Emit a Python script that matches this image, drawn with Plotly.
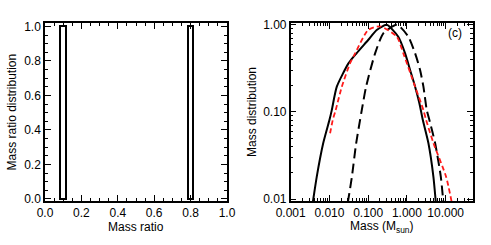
import plotly.graph_objects as go
import math

# Left panel: mass ratio histogram
ratio_centers = [0.10, 0.80]
ratio_values = [1.0, 1.0]
ratio_width = 0.03

# Right panel: mass distributions
solid_mass = [0.0037, 0.0047, 0.0069, 0.010, 0.0115, 0.0155, 0.031, 0.050, 0.10, 0.166, 0.30,
              0.60, 0.90, 1.21, 1.63, 2.10, 2.58, 3.60, 4.84, 5.6]
solid_val = [0.009, 0.018, 0.0437, 0.0807, 0.105, 0.195, 0.361, 0.471, 0.67, 0.873, 1.0,
             0.731, 0.471, 0.303, 0.195, 0.126, 0.0807, 0.0437, 0.018, 0.009]

dash_mass = [0.0297, 0.038, 0.049, 0.0617, 0.0684, 0.0883, 0.151, 0.247, 0.56,
             1.09, 1.63, 2.19, 2.67, 3.26, 3.81, 5.36, 7.52, 8.77]
dash_val = [0.009, 0.018, 0.0437, 0.0807, 0.105, 0.195, 0.471, 0.80, 1.0,
            0.731, 0.471, 0.303, 0.195, 0.105, 0.0807, 0.0437, 0.018, 0.009]

red_mass = [0.0104, 0.0122, 0.0145, 0.0209, 0.034, 0.046, 0.10, 0.204, 0.55, 0.81,
            1.63, 2.67, 3.13, 4.84, 10.3, 14.5]
red_val = [0.057, 0.081, 0.105, 0.195, 0.361, 0.47, 0.873, 0.96, 0.731, 0.471,
           0.195, 0.105, 0.081, 0.044, 0.018, 0.009]

xt2_vals = [0.001, 0.01, 0.1, 1, 10]
xt2_text = ["0.001", "0.010", "0.100", "1.000", "10.000"]
yt2_vals = [0.01, 0.1, 1]
yt2_text = ["0.01", "0.10", "1.00"]

W, H = 491, 245
FONT = "Liberation Sans, Arial, sans-serif"

fig = go.Figure()
fig.add_trace(go.Bar(x=ratio_centers, y=ratio_values, width=ratio_width,
                     marker=dict(color="white", line=dict(color="black", width=2)),
                     xaxis="x", yaxis="y", showlegend=False))
fig.add_trace(go.Scatter(x=solid_mass, y=solid_val, mode="lines", line=dict(color="black", width=2, shape="spline", smoothing=0.6),
                         xaxis="x2", yaxis="y2", showlegend=False))
fig.add_trace(go.Scatter(x=dash_mass, y=dash_val, mode="lines", line=dict(color="black", width=2, dash="10px,5px", shape="spline", smoothing=0.6),
                         xaxis="x2", yaxis="y2", showlegend=False))
fig.add_trace(go.Scatter(x=red_mass, y=red_val, mode="lines", line=dict(color="#ff1a1a", width=1.8, dash="5px,3px", shape="spline", smoothing=0.6),
                         xaxis="x2", yaxis="y2", showlegend=False))

x1d = [45 / W, 227 / W]
x2d = [290.7 / W, 472.7 / W]
yd = [1 - 201 / H, 1 - 23 / H]

axcommon = dict(showline=True, linecolor="black", linewidth=1.5, mirror="allticks",
                ticks="inside", ticklen=6, tickwidth=1, tickcolor="black",
                showgrid=False, zeroline=False, automargin=False,
                tickfont=dict(family=FONT, size=12, color="black"))

def ann(text, x, y, angle=0):
    return dict(text=text, x=x, y=y, xref="paper", yref="paper", xanchor="center", yanchor="middle",
                showarrow=False, textangle=angle, font=dict(family=FONT, size=12, color="black"))

fig.update_layout(
    width=W, height=H, margin=dict(l=0, r=0, t=0, b=0),
    paper_bgcolor="white", plot_bgcolor="white",
    xaxis=dict(domain=x1d, range=[0, 1], anchor="y", tickvals=[0, 0.2, 0.4, 0.6, 0.8, 1.0],
               ticktext=["0.0", "0.2", "0.4", "0.6", "0.8", "1.0"],
               minor=dict(ticks="inside", ticklen=3, dtick=0.05, tickcolor="black"), **axcommon),
    yaxis=dict(domain=yd, range=[-0.012, 1.02], anchor="x", tickvals=[0, 0.2, 0.4, 0.6, 0.8, 1.0],
               ticktext=["0.0", "0.2", "0.4", "0.6", "0.8", "1.0"],
               minor=dict(ticks="inside", ticklen=3, dtick=0.05, tickcolor="black"), **axcommon),
    xaxis2=dict(domain=x2d, type="log", range=[-3, math.log10(50)], anchor="y2",
                tickvals=xt2_vals, ticktext=xt2_text,
                minor=dict(ticks="inside", ticklen=3, dtick="D1", tickcolor="black"), **axcommon),
    yaxis2=dict(domain=yd, type="log", range=[math.log10(0.0095), math.log10(1.05)], anchor="x2",
                tickvals=yt2_vals, ticktext=yt2_text,
                minor=dict(ticks="inside", ticklen=3, dtick="D1", tickcolor="black"), **axcommon),
    bargap=0,
    annotations=[
        ann("Mass ratio", (x1d[0] + x1d[1]) / 2, 1 - 227 / H),
        ann("Mass ratio distribution", 11.5 / W, (yd[0] + yd[1]) / 2, -90),
        ann("Mass (M<sub>sun</sub>)", (x2d[0] + x2d[1]) / 2, 1 - 227 / H),
        ann("Mass distribution", 252 / W, (yd[0] + yd[1]) / 2, -90),
        ann("(c)", 455 / W, 1 - 33 / H),
    ],
)

fig.write_html("out.html", config={"displayModeBar": False},
               post_script="document.body.style.margin='0';document.body.style.overflow='hidden';")
